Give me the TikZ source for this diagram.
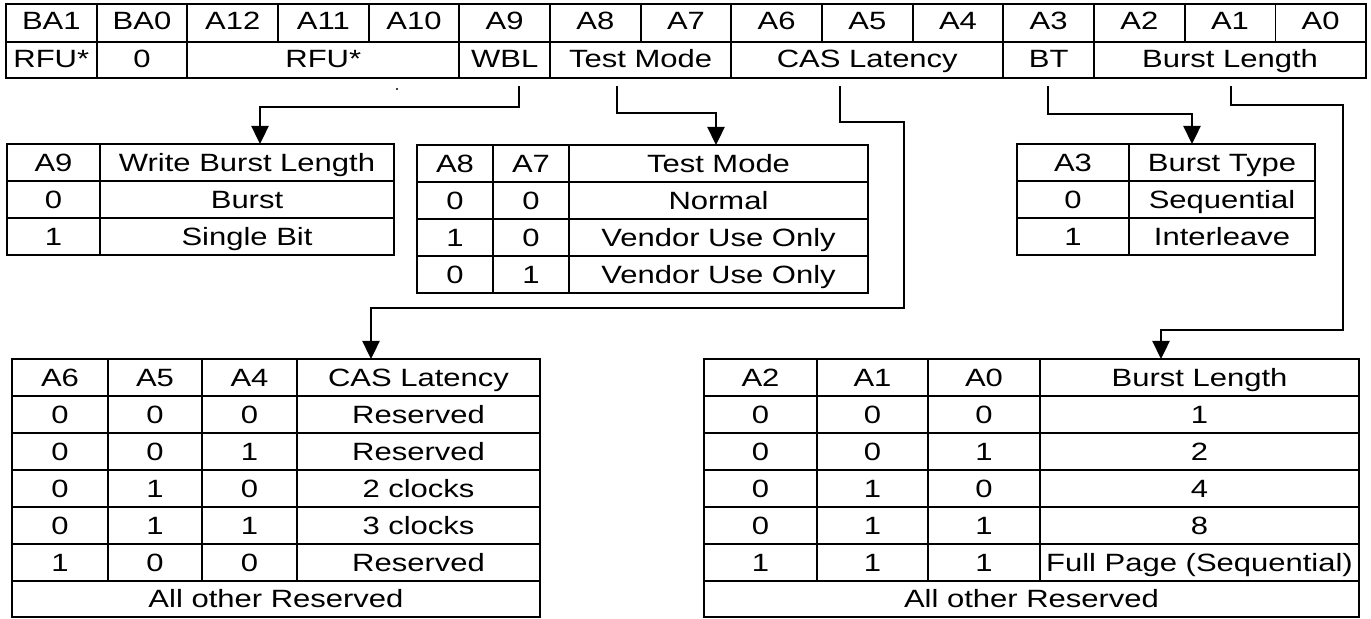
\documentclass[tikz,border=0pt]{standalone}
\usepackage{fontspec}
\setmainfont{Liberation Sans}[FakeStretch=1.24]
\usetikzlibrary{arrows.meta}

\begin{document}
\begin{tikzpicture}[x=0.5pt, y=-0.5pt, line width=0.85pt,
		txt/.style={inner sep=0pt, anchor=base, font=\fontsize{12.5}{14}\selectfont},
		link/.style={line width=1.2pt, -{Triangle[length=9pt,width=8.5pt]}}]
		\useasboundingbox (0,0) rectangle (1371,619);
		% mode register
		\draw (6,4) rectangle (1366,78) (6,42)--(1366,42);
		\foreach \i in {1,...,14} \draw ({6+90.667*\i},4)--({6+90.667*\i},42);
		\foreach \i in {1,2,5,6,8,11,12} \draw ({6+90.667*\i},42)--({6+90.667*\i},78);
		\foreach \n [count=\i from 0] in {BA1,BA0,A12,A11,A10,A9,A8,A7,A6,A5,A4,A3,A2,A1,A0}
			\node[txt] (bit\i) at ({6+90.667*(\i+0.5)},30) {\n};
		\node[txt] (rfuhi) at (51.3,68) {RFU*};
		\node[txt] (ba0) at (142,68) {0};
		\node[txt] (rfu) at (323.3,68) {RFU*};
		\node[txt] (wbl) at (504.7,68) {WBL};
		\node[txt] (tmode) at (640.7,68) {Test Mode};
		\node[txt] (cas) at (867.3,68) {CAS Latency};
		\node[txt] (bt) at (1048.7,68) {BT};
		\node[txt] (blen) at (1230,68) {Burst Length};
		\fill (397,89) circle (1.2);
		% write burst length
		\draw (7,144) rectangle (394,255) (100,144)--(100,255) (7,181)--(394,181) (7,218)--(394,218);
		\foreach \a/\b [count=\r from 0] in {A9/Write Burst Length,0/Burst,1/Single Bit}{
			\node[txt] (wa\r) at (53.5,{144+37*\r+28}) {\a};
			\node[txt] (wb\r) at (247,{144+37*\r+28}) {\b};}
		% test mode
		\draw (417,145) rectangle (868,293) (493,145)--(493,293) (569,145)--(569,293);
		\foreach \r in {1,2,3} \draw (417,{145+37*\r})--(868,{145+37*\r});
		\foreach \a/\b/\c [count=\r from 0] in {A8/A7/Test Mode,0/0/Normal,1/0/Vendor Use Only,0/1/Vendor Use Only}{
			\node[txt] (ta\r) at (455,{145+37*\r+28}) {\a};
			\node[txt] (tb\r) at (531,{145+37*\r+28}) {\b};
			\node[txt] (tc\r) at (718.5,{145+37*\r+28}) {\c};}
		% burst type
		\draw (1017,144) rectangle (1315,255) (1129,144)--(1129,255) (1017,181)--(1315,181) (1017,218)--(1315,218);
		\foreach \a/\b [count=\r from 0] in {A3/Burst Type,0/Sequential,1/Interleave}{
			\node[txt] (ya\r) at (1073,{144+37*\r+28}) {\a};
			\node[txt] (yb\r) at (1222,{144+37*\r+28}) {\b};}
		% cas latency
		\draw (12,359) rectangle (540,617);
		\foreach \x in {108,202,297} \draw (\x,359)--(\x,581);
		\foreach \r in {1,...,6} \draw (12,{359+37*\r})--(540,{359+37*\r});
		\foreach \a/\b/\c/\d [count=\r from 0] in {A6/A5/A4/CAS Latency,0/0/0/Reserved,0/0/1/Reserved,0/1/0/2 clocks,0/1/1/3 clocks,1/0/0/Reserved}{
			\node[txt] (ca\r) at (60,{359+37*\r+28}) {\a};
			\node[txt] (cb\r) at (155,{359+37*\r+28}) {\b};
			\node[txt] (cc\r) at (249.5,{359+37*\r+28}) {\c};
			\node[txt] (cd\r) at (418.5,{359+37*\r+28}) {\d};}
		\node[txt] (caso) at (276,{359+37*6+27}) {All other Reserved};
		% burst length
		\draw (704,359) rectangle (1359,617);
		\foreach \x in {817,928,1040} \draw (\x,359)--(\x,581);
		\foreach \r in {1,...,6} \draw (704,{359+37*\r})--(1359,{359+37*\r});
		\foreach \a/\b/\c/\d [count=\r from 0] in {A2/A1/A0/Burst Length,0/0/0/1,0/0/1/2,0/1/0/4,0/1/1/8,1/1/1/Full Page (Sequential)}{
			\node[txt] (la\r) at (760.5,{359+37*\r+28}) {\a};
			\node[txt] (lb\r) at (872.5,{359+37*\r+28}) {\b};
			\node[txt] (lc\r) at (984,{359+37*\r+28}) {\c};
			\node[txt] (ld\r) at (1199.5,{359+37*\r+28}) {\d};}
		\node[txt] (blo) at (1031.5,{359+37*6+27}) {All other Reserved};
		% links
		\coordinate (wblout) at (519,86);   \coordinate (wblin) at (260,144);
		\coordinate (tmout) at (617,86);    \coordinate (tmin) at (716,145);
		\coordinate (casout) at (840,86);   \coordinate (casbend) at (904,308); \coordinate (casin) at (371,359);
		\coordinate (btout) at (1048,86);   \coordinate (btin) at (1192,144);
		\coordinate (blout) at (1231,86);   \coordinate (blbend) at (1343,330); \coordinate (blin) at (1161,359);
		\draw[link] (wblout) -- ++(0,21) -| (wblin);
		\draw[link] (tmout) -- ++(0,27) -| (tmin);
		\draw[link] (casout) -- ++(0,36) -| (casbend) -| (casin);
		\draw[link] (btout) -- ++(0,28) -| (btin);
		\draw[link] (blout) -- ++(0,19) -| (blbend) -| (blin);
	\end{tikzpicture}
\end{document}
